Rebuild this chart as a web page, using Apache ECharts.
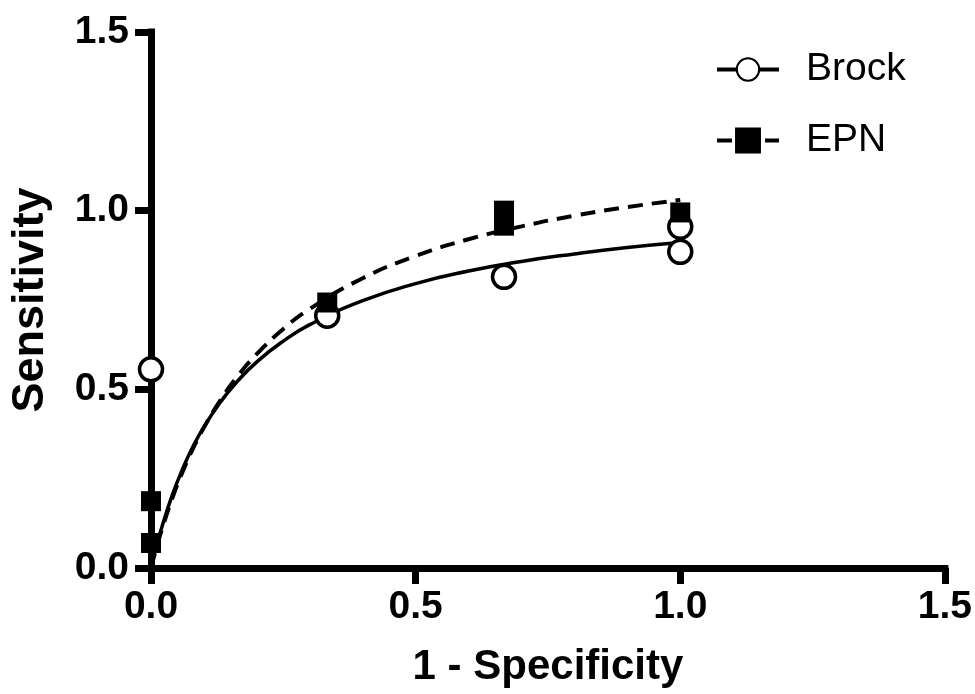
<!DOCTYPE html>
<html>
<head>
<meta charset="utf-8">
<script src="https://cdn.jsdelivr.net/npm/echarts@6/dist/echarts.min.js"></script>
<style>
  html, body { margin: 0; padding: 0; background: #fff; }
  #chart { width: 975px; height: 694px; }
</style>
</head>
<body>
<div id="chart"></div>
<script>
// observed points (1 - specificity, sensitivity)
var brockPoints = [[0, 0.556], [0.333, 0.706], [0.667, 0.815], [1.0, 0.885], [1.0, 0.955]];
var epnPoints = [[0, 0.07], [0, 0.187], [0.333, 0.743], [0.667, 0.958], [0.667, 1.0], [1.0, 0.995]];

// fitted curves
var fitX = [0, 0.01, 0.02, 0.04, 0.06, 0.08, 0.1, 0.13, 0.16, 0.2, 0.25, 0.3, 0.4, 0.5, 0.6, 0.7, 0.8, 0.9, 1.0];
var brockFit = [0, 0.059, 0.112, 0.203, 0.278, 0.342, 0.395, 0.462, 0.517, 0.577, 0.635, 0.681, 0.748, 0.796, 0.831, 0.858, 0.879, 0.897, 0.911];
var epnFit = [0, 0.055, 0.105, 0.194, 0.270, 0.336, 0.393, 0.467, 0.530, 0.599, 0.669, 0.725, 0.811, 0.873, 0.920, 0.956, 0.986, 1.010, 1.030];

var ticks = [0, 0.5, 1.0, 1.5];

function pairs(xs, ys) {
  return xs.map(function (x, i) { return [x, ys[i]]; });
}

var chart = echarts.init(document.getElementById('chart'));
var font = 'Liberation Sans, Arial, sans-serif';

var axisCommon = {
  type: 'value',
  min: ticks[0],
  max: ticks[ticks.length - 1],
  interval: 0.5,
  splitLine: { show: false },
  axisLine: { show: true, onZero: false, lineStyle: { color: '#000', width: 7, cap: 'square' } },
  axisTick: { show: true, length: 16, lineStyle: { color: '#000', width: 7 } },
  axisLabel: {
    color: '#000', fontFamily: font, fontWeight: 'bold', fontSize: 39,
    formatter: function (v) { return v.toFixed(1); }
  },
  nameLocation: 'middle',
  nameTextStyle: { color: '#000', fontFamily: font, fontWeight: 'bold', fontSize: 42 }
};

var option = {
  backgroundColor: '#fff',
  animation: false,
  grid: { left: 146, right: 30, top: 32, bottom: 126 },
  legend: {
    data: ['Brock', 'EPN'],
    orient: 'vertical',
    left: 710,
    top: 45,
    itemGap: 32,
    itemWidth: 62,
    itemHeight: 28,
    lineStyle: { width: 4 },
    itemStyle: { borderWidth: 3.5 },
    textStyle: { color: '#000', fontFamily: font, fontSize: 39, padding: [0, 0, 0, 22] }
  },
  xAxis: Object.assign({}, axisCommon, {
    name: '1 - Specificity',
    nameGap: 78,
    axisLabel: Object.assign({}, axisCommon.axisLabel, { margin: 20 })
  }),
  yAxis: Object.assign({}, axisCommon, {
    name: 'Sensitivity',
    nameTextStyle: Object.assign({}, axisCommon.nameTextStyle, { fontSize: 45 }),
    nameGap: 98,
    axisLabel: Object.assign({}, axisCommon.axisLabel, { margin: 22 })
  }),
  series: [
    {
      name: 'Brock',
      type: 'line',
      smooth: true,
      data: pairs(fitX, brockFit),
      showSymbol: false,
      symbol: 'emptyCircle',
      symbolSize: 22,
      itemStyle: { color: '#000', borderColor: '#000', borderWidth: 3.5 },
      lineStyle: { color: '#000', width: 3.5 },
      z: 2
    },
    {
      name: 'EPN',
      type: 'line',
      smooth: true,
      data: pairs(fitX, epnFit),
      showSymbol: false,
      symbol: 'rect',
      symbolSize: 20,
      itemStyle: { color: '#000', borderColor: '#000' },
      lineStyle: { color: '#000', width: 4, type: [15, 9] },
      z: 2
    },
    {
      name: 'Brock points',
      type: 'scatter',
      data: brockPoints,
      clip: false,
      symbol: 'circle',
      symbolSize: 23,
      itemStyle: { color: '#fff', borderColor: '#000', borderWidth: 3.5, opacity: 1 },
      z: 3
    },
    {
      name: 'EPN points',
      type: 'scatter',
      data: epnPoints,
      clip: false,
      symbol: 'rect',
      symbolSize: 20,
      itemStyle: { color: '#000', opacity: 1 },
      z: 4
    }
  ]
};

chart.setOption(option);
</script>
</body>
</html>
